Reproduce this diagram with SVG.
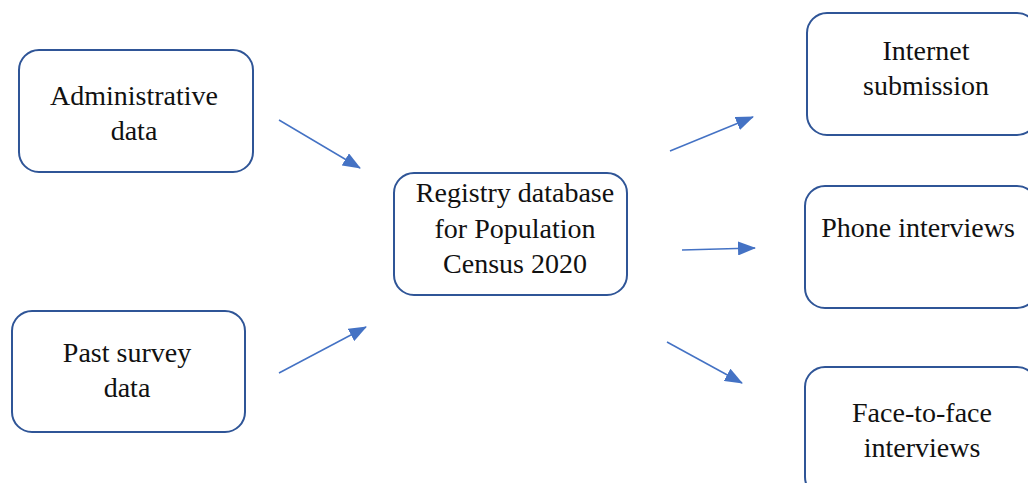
<svg xmlns="http://www.w3.org/2000/svg" width="1028" height="483" viewBox="0 0 1028 483">
<style>
.box{fill:#fff;stroke:#2F5597;stroke-width:2}
.lbl{font-family:"Liberation Serif","Times New Roman",serif;font-size:28px;fill:#111;text-anchor:middle}
.conn{stroke:#4472C4;stroke-width:1.5;fill:none;marker-end:url(#ah)}
</style>
<defs>
<marker id="ah" markerWidth="18" markerHeight="14" refX="17" refY="7" orient="auto" markerUnits="userSpaceOnUse">
<path d="M0,0 L18,7 L0,14 Z" fill="#4472C4"/>
</marker>
</defs>
<rect width="1028" height="483" fill="#fff"/>
<g id="admin">
<rect class="box" x="19" y="50" width="234" height="122" rx="20"/>
<text class="lbl" x="134" y="105">Administrative</text>
<text class="lbl" x="134" y="140">data</text>
</g>
<g id="past">
<rect class="box" x="12" y="311" width="233" height="121" rx="20"/>
<text class="lbl" x="127" y="362">Past survey</text>
<text class="lbl" x="127" y="397">data</text>
</g>
<g id="registry">
<rect class="box" x="394" y="173" width="233" height="122" rx="20"/>
<text class="lbl" x="515" y="202">Registry database</text>
<text class="lbl" x="515" y="238">for Population</text>
<text class="lbl" x="515" y="273">Census 2020</text>
</g>
<g id="internet">
<rect class="box" x="807" y="13" width="230" height="122" rx="20"/>
<text class="lbl" x="926" y="60">Internet</text>
<text class="lbl" x="926" y="95">submission</text>
</g>
<g id="phone">
<rect class="box" x="805" y="186" width="232" height="122" rx="20"/>
<text class="lbl" x="918" y="237">Phone interviews</text>
</g>
<g id="face">
<rect class="box" x="805" y="367" width="232" height="130" rx="20"/>
<text class="lbl" x="922" y="422">Face-to-face</text>
<text class="lbl" x="922" y="457">interviews</text>
</g>
<g id="connectors">
<line class="conn" x1="279" y1="120" x2="360" y2="168"/>
<line class="conn" x1="279" y1="373" x2="366" y2="327"/>
<line class="conn" x1="670" y1="151" x2="753" y2="117"/>
<line class="conn" x1="682" y1="250" x2="755" y2="248"/>
<line class="conn" x1="667" y1="342" x2="742" y2="383"/>
</g>
</svg>
